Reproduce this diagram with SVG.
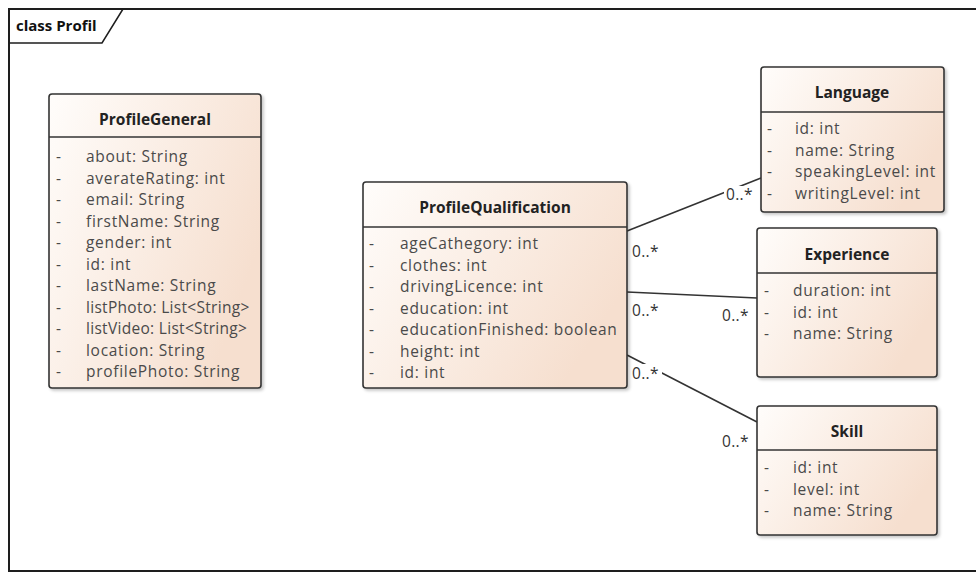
<svg xmlns="http://www.w3.org/2000/svg" width="976" height="572" viewBox="0 0 976 572">
  <defs>
    <linearGradient id="classFill" x1="0" y1="0" x2="1" y2="0.5">
      <stop offset="0" stop-color="#fffdfb"/>
      <stop offset="1" stop-color="#f6dfcf"/>
    </linearGradient>
    <filter id="shadow" x="-10%" y="-10%" width="130%" height="130%">
      <feDropShadow dx="2" dy="2" stdDeviation="1.8" flood-color="#000" flood-opacity="0.22"/>
    </filter>
  </defs>
  <style>
    .frame { fill: none; stroke: #1e1e1e; stroke-width: 2; }
    .tab { fill: none; stroke: #1e1e1e; stroke-width: 1.5; }
    .frameTitle { font-family: "Open Sans", "Liberation Sans", sans-serif; font-weight: bold; font-size: 15px; fill: #111; }
    .box { fill: url(#classFill); stroke: #333; stroke-width: 1.6; filter: url(#shadow); }
    .sep { stroke: #333; stroke-width: 1.4; }
    .title { font-family: "Open Sans", "Liberation Sans", sans-serif; font-weight: bold; font-size: 15.5px; fill: #222; text-anchor: middle; }
    .attr { font-family: "Open Sans", "Liberation Sans", sans-serif; font-size: 15.5px; letter-spacing: 0.7px; fill: #4a4a4a; }
    .attr .tight { letter-spacing: 0.3px; }
    .conn { fill: none; stroke: #333; stroke-width: 1.6; }
    .mult { font-family: "Open Sans", "Liberation Sans", sans-serif; font-size: 15.5px; letter-spacing: 0.3px; fill: #333; }
    .mask { fill: #fff; }
  </style>

  <rect class="frame" x="9" y="9" width="975" height="562"/>
  <path class="tab" d="M9,43 H102 L123,9"/>
  <text class="frameTitle" x="16" y="31">class Profil</text>

  <!-- associations -->
  <g id="connectors">
    <line class="conn" x1="627" y1="231" x2="761" y2="178"/>
    <line class="conn" x1="627" y1="292" x2="757" y2="298"/>
    <line class="conn" x1="627" y1="355" x2="757" y2="422"/>
    <rect class="mask" x="724" y="186" width="32" height="18"/>
    <rect class="mask" x="631" y="364" width="31" height="18"/>
    <text class="mult" x="632" y="257">0..*</text>
    <text class="mult" x="726" y="200">0..*</text>
    <text class="mult" x="632" y="316">0..*</text>
    <text class="mult" x="722" y="321">0..*</text>
    <text class="mult" x="632" y="379">0..*</text>
    <text class="mult" x="722" y="447">0..*</text>
  </g>

  <g id="ProfileGeneral">
    <rect class="box" x="49" y="94" width="212" height="294" rx="3"/>
    <line class="sep" x1="49" y1="137" x2="261" y2="137"/>
    <text class="title" x="155" y="125">ProfileGeneral</text>
    <g class="attr">
      <text x="56" y="162">-</text><text x="86" y="162">about: String</text>
      <text x="56" y="183.5">-</text><text x="86" y="183.5">averateRating: int</text>
      <text x="56" y="205">-</text><text x="86" y="205">email: String</text>
      <text x="56" y="226.5">-</text><text x="86" y="226.5">firstName: String</text>
      <text x="56" y="248">-</text><text x="86" y="248">gender: int</text>
      <text x="56" y="269.5">-</text><text x="86" y="269.5">id: int</text>
      <text x="56" y="291">-</text><text x="86" y="291">lastName: String</text>
      <text x="56" y="312.5">-</text><text class="tight" x="86" y="312.5">listPhoto: List&lt;String&gt;</text>
      <text x="56" y="334">-</text><text class="tight" x="86" y="334">listVideo: List&lt;String&gt;</text>
      <text x="56" y="355.5">-</text><text x="86" y="355.5">location: String</text>
      <text x="56" y="377">-</text><text x="86" y="377">profilePhoto: String</text>
    </g>
  </g>

  <g id="ProfileQualification">
    <rect class="box" x="363" y="182" width="264" height="206" rx="3"/>
    <line class="sep" x1="363" y1="227" x2="627" y2="227"/>
    <text class="title" x="495" y="213">ProfileQualification</text>
    <g class="attr">
      <text x="369" y="249">-</text><text x="400" y="249">ageCathegory: int</text>
      <text x="369" y="270.5">-</text><text x="400" y="270.5">clothes: int</text>
      <text x="369" y="292">-</text><text x="400" y="292">drivingLicence: int</text>
      <text x="369" y="313.5">-</text><text x="400" y="313.5">education: int</text>
      <text x="369" y="335">-</text><text x="400" y="335">educationFinished: boolean</text>
      <text x="369" y="356.5">-</text><text x="400" y="356.5">height: int</text>
      <text x="369" y="378">-</text><text x="400" y="378">id: int</text>
    </g>
  </g>

  <g id="Language">
    <rect class="box" x="761" y="67" width="183" height="145" rx="3"/>
    <line class="sep" x1="761" y1="112" x2="944" y2="112"/>
    <text class="title" x="852" y="98">Language</text>
    <g class="attr">
      <text x="767" y="134">-</text><text x="795" y="134">id: int</text>
      <text x="767" y="155.5">-</text><text x="795" y="155.5">name: String</text>
      <text x="767" y="177">-</text><text x="795" y="177">speakingLevel: int</text>
      <text x="767" y="198.5">-</text><text x="795" y="198.5">writingLevel: int</text>
    </g>
  </g>

  <g id="Experience">
    <rect class="box" x="757" y="228" width="180" height="149" rx="3"/>
    <line class="sep" x1="757" y1="273" x2="937" y2="273"/>
    <text class="title" x="847" y="260">Experience</text>
    <g class="attr">
      <text x="764" y="296">-</text><text x="793" y="296">duration: int</text>
      <text x="764" y="317.5">-</text><text x="793" y="317.5">id: int</text>
      <text x="764" y="339">-</text><text x="793" y="339">name: String</text>
    </g>
  </g>

  <g id="Skill">
    <rect class="box" x="757" y="406" width="180" height="129" rx="3"/>
    <line class="sep" x1="757" y1="450" x2="937" y2="450"/>
    <text class="title" x="847" y="437">Skill</text>
    <g class="attr">
      <text x="764" y="473">-</text><text x="793" y="473">id: int</text>
      <text x="764" y="494.5">-</text><text x="793" y="494.5">level: int</text>
      <text x="764" y="516">-</text><text x="793" y="516">name: String</text>
    </g>
  </g>
</svg>
